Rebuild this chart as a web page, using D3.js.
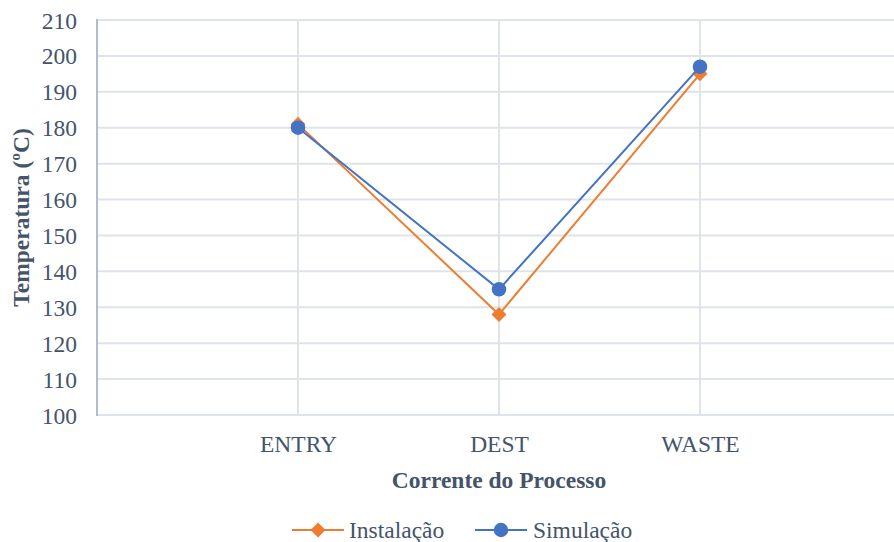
<!DOCTYPE html>
<html>
<head>
<meta charset="utf-8">
<script src="https://cdn.jsdelivr.net/npm/d3@7"></script>
<style>
  html, body { margin: 0; padding: 0; background: #fff; }
</style>
</head>
<body>
<svg id="chart" width="894" height="542"></svg>
<script>
// Stream categories (padded with empty slots at both ends of the axis)
const categories = ["ENTRY", "DEST", "WASTE"];
const instalacao = [181, 128, 195];
const simulacao = [180, 135, 197];
const yTicks = [100, 110, 120, 130, 140, 150, 160, 170, 180, 190, 200, 210];

(function draw() {
  const FONT = '"Liberation Serif", "Times New Roman", serif';
  const TEXT = "#44546a";
  const FS = "23.5px";
  const svg = d3.select("#chart");
  const mLeft = 97, mRight = 901, mTop = 20, mBottom = 415;

  const x = d3.scalePoint().domain(["_a", ...categories, "_b"]).range([mLeft, mRight]);
  const y = d3.scaleLinear().domain([100, 210]).range([mBottom, mTop]);

  const gridColor = "#dfe3ea";

  // horizontal gridlines
  svg.append("g").selectAll("line").data(yTicks).join("line")
    .attr("x1", mLeft).attr("x2", 894)
    .attr("y1", d => y(d)).attr("y2", d => y(d))
    .attr("stroke", gridColor).attr("stroke-width", 2);

  // vertical gridlines at categories
  svg.append("g").selectAll("line").data(categories).join("line")
    .attr("x1", d => x(d)).attr("x2", d => x(d))
    .attr("y1", mTop).attr("y2", mBottom)
    .attr("stroke", gridColor).attr("stroke-width", 2);

  // left axis line
  svg.append("line").attr("x1", mLeft).attr("x2", mLeft).attr("y1", mTop - 1).attr("y2", mBottom + 1)
    .attr("stroke", "#b4bccb").attr("stroke-width", 2);

  // y tick labels
  const yAxis = d3.axisLeft(y).tickValues(yTicks).tickSize(0).tickPadding(0);
  const gy = svg.append("g").attr("transform", `translate(77,0)`).call(yAxis);
  gy.select(".domain").remove();
  gy.attr("font-family", null).attr("font-size", null);
  gy.selectAll("text").attr("dy", "0.34em")
    .style("font-family", FONT).style("font-size", FS).style("fill", TEXT);

  // x tick labels
  const xAxis = d3.axisBottom(x).tickValues(categories).tickSize(0).tickPadding(0);
  const gx = svg.append("g").attr("transform", `translate(0,452)`).call(xAxis);
  gx.select(".domain").remove();
  gx.attr("font-family", null).attr("font-size", null);
  gx.selectAll("text").attr("dy", "0")
    .style("font-family", FONT).style("font-size", FS).style("fill", TEXT);

  // axis titles
  svg.append("text").attr("x", x("DEST")).attr("y", 488).attr("text-anchor", "middle")
    .style("font-family", FONT).style("font-size", FS).style("font-weight", "bold").style("fill", TEXT)
    .text("Corrente do Processo");
  svg.append("text").attr("transform", `translate(29,${(mTop + mBottom) / 2}) rotate(-90)`)
    .attr("text-anchor", "middle")
    .style("font-family", FONT).style("font-size", FS).style("font-weight", "bold").style("fill", TEXT)
    .text("Temperatura (ºC)");

  const series = [
    { name: "Instalação", values: instalacao, color: "#ed7d31", symbol: d3.symbolSquare, size: 112, rot: 45 },
    { name: "Simulação", values: simulacao, color: "#4472c4", symbol: d3.symbolCircle, size: 165, rot: 0 }
  ];

  const line = d3.line().x((d, i) => x(categories[i])).y(d => y(d));

  series.forEach(s => {
    svg.append("path").datum(s.values).attr("d", line)
      .attr("fill", "none").attr("stroke", s.color).attr("stroke-width", 2);
    svg.append("g").selectAll("path").data(s.values).join("path")
      .attr("transform", (d, i) => `translate(${x(categories[i])},${y(d)}) rotate(${s.rot})`)
      .attr("d", d3.symbol().type(s.symbol).size(s.size))
      .attr("fill", s.color);
  });

  // legend
  const legendY = 530;
  const legendItems = [
    { s: series[0], x0: 292, tx: 349 },
    { s: series[1], x0: 475, tx: 533 }
  ];
  legendItems.forEach(({ s, x0, tx }) => {
    svg.append("line").attr("x1", x0).attr("x2", x0 + 52).attr("y1", legendY).attr("y2", legendY)
      .attr("stroke", s.color).attr("stroke-width", 2);
    svg.append("path").attr("transform", `translate(${x0 + 26},${legendY}) rotate(${s.rot})`)
      .attr("d", d3.symbol().type(s.symbol).size(s.size)).attr("fill", s.color);
    svg.append("text").attr("x", tx).attr("y", 538)
      .style("font-family", FONT).style("font-size", FS).style("fill", TEXT)
      .text(s.name);
  });
})();
</script>
</body>
</html>
